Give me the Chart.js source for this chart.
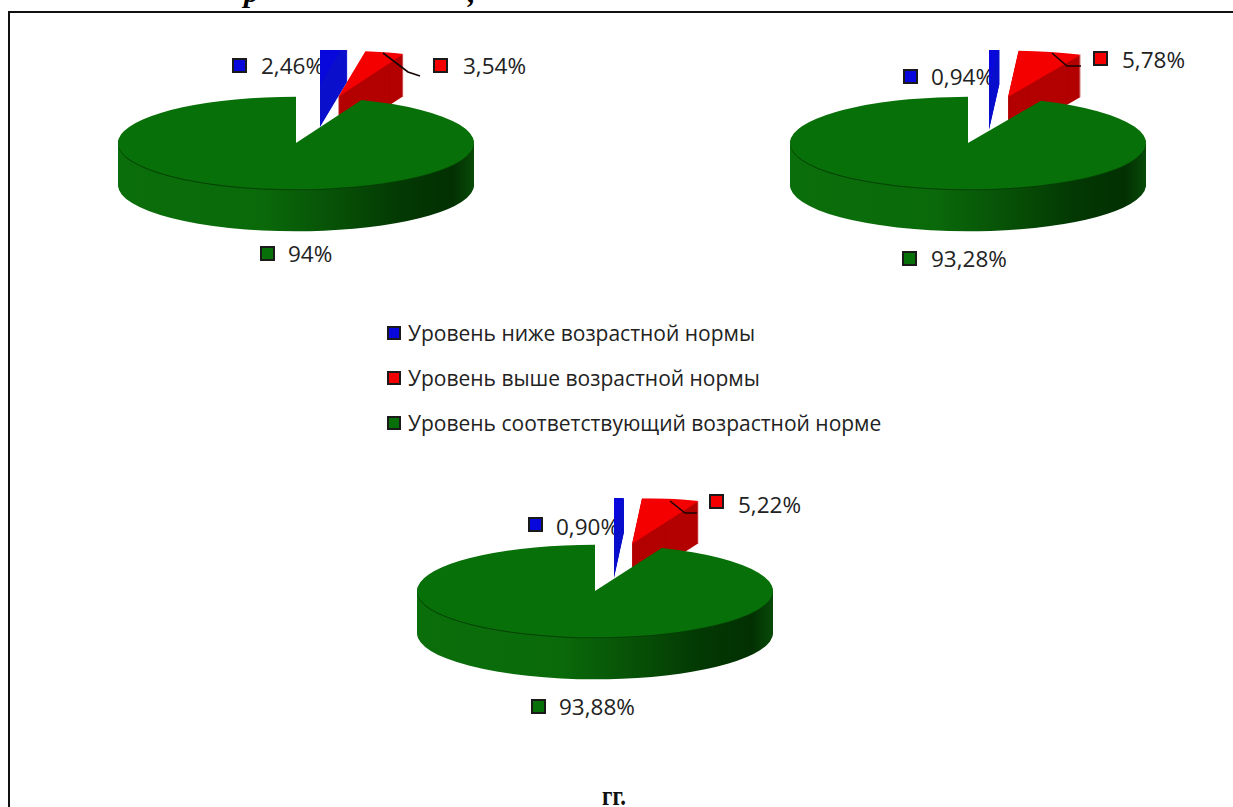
<!DOCTYPE html>
<html lang="ru">
<head>
  <meta charset="UTF-8" />
  <title>Уровень возрастной нормы</title>
  <script src="https://cdn.jsdelivr.net/npm/chart.js"></script>
  <style>
    html, body { margin: 0; padding: 0; background: #fff; }
    body { position: relative; width: 1233px; height: 807px; overflow: hidden; font-family: "Open Sans", sans-serif; color: #222; }
    #frame { position: absolute; left: 8px; top: 11px; width: 1240px; height: 810px; border-left: 2px solid #111; border-top: 2px solid #111; box-sizing: border-box; }
    canvas { position: absolute; z-index: 2; }
    .lbl { position: absolute; font-size: 22.5px; line-height: 24px; white-space: nowrap; z-index: 1; }
    .sq { position: absolute; width: 15px; height: 15px; border: 2px solid #1a1a1a; box-sizing: border-box; z-index: 1; }
    .leg { position: absolute; left: 408px; font-size: 21px; line-height: 24px; white-space: nowrap; }
    .top { position: absolute; font: italic bold 30px "Liberation Serif", serif; color: #000; }
  </style>
</head>
<body>
  <div id="frame"></div>
  <span class="top" style="left:244px; top:-25px">р</span>
  <span class="top" style="left:468px; top:-25px">,</span>
  <span style="position:absolute; left:602px; top:781px; font:bold 27px 'Liberation Serif', serif; color:#111; transform:scaleX(0.85); transform-origin:left">гг.</span>

  <script>
    const categories = ['Уровень ниже возрастной нормы', 'Уровень выше возрастной нормы', 'Уровень соответствующий возрастной норме'];
    const colors = ['#0808dc', '#f50000', '#087008'];
    const sideColors = ['#0a10cc', '#b30000', null];

    const valuesA = [2.46, 3.54, 94];
    const valuesB = [0.94, 5.78, 93.28];
    const valuesC = [0.90, 5.22, 93.88];

    const labelsA = ['2,46%', '3,54%', '94%'];
    const labelsB = ['0,94%', '5,78%', '93,28%'];
    const labelsC = ['0,90%', '5,22%', '93,88%'];

    // center of each pie, how far blue and red are pulled out, where they get cut off
    const pies = [
      { values: valuesA, labels: labelsA, cx: 295.5, cy: 143, clipY: 50, pull: [[24, -58], [42, -46]],
        leader: [[87, -90], [112, -71], [124, -67]],
        marks: [[232, 58], [433, 58], [260, 246]], texts: [[261, 66], [463, 66], [288, 254]] },
      { values: valuesB, labels: labelsB, cx: 968, cy: 143, clipY: 50, pull: [[21, -55], [40, -46]],
        leader: [[84, -90], [99, -77], [113, -77]],
        marks: [[903, 69], [1093, 51], [902, 251]], texts: [[931, 77], [1122, 60], [931, 259]] },
      { values: valuesC, labels: labelsC, cx: 595, cy: 590.5, clipY: 498, pull: [[19, -55], [37, -47]],
        leader: [[75, -90], [90, -78], [102, -78]],
        marks: [[528, 517], [709, 494], [531, 699]], texts: [[556, 527], [738, 505], [559, 707]] }
    ];

    const squash = 0.26;
    const depth = 42;
    const R = 178;
    const size = 376;

    function drawWedge(ctx, arc, fill, cx, cy, dx, dy) {
      const saved = arc.options;
      arc.options = Object.assign({}, saved, { backgroundColor: fill });
      ctx.save();
      ctx.translate(cx + dx, cy + dy);
      ctx.scale(1, squash);
      ctx.translate(-cx, -cy);
      arc.draw(ctx);
      ctx.restore();
      arc.options = saved;
    }

    const pie3d = {
      id: 'pie3d',
      beforeDatasetsDraw(chart, args, opts) {
        const ctx = chart.ctx;
        const arcs = chart.getDatasetMeta(0).data;
        const cx = arcs[0].x, cy = arcs[0].y;

        // blue and red first, they sit behind the green
        ctx.save();
        ctx.beginPath();
        ctx.rect(0, opts.clipTop, chart.width, chart.height);
        ctx.clip();
        [1, 0].forEach(i => {
          const [px, py] = opts.pull[i];
          for (let d = depth; d > 0; d--) drawWedge(ctx, arcs[i], sideColors[i], cx, cy, px, py + d);
          drawWedge(ctx, arcs[i], colors[i], cx, cy, px, py);
        });
        ctx.restore();

        // leader line of the red label
        ctx.strokeStyle = '#1a0505';
        ctx.lineWidth = 1.6;
        ctx.beginPath();
        opts.leader.forEach(([x, y], i) => i ? ctx.lineTo(cx + x, cy + y) : ctx.moveTo(cx + x, cy + y));
        ctx.stroke();

        const side = ctx.createLinearGradient(cx - R, 0, cx + R, 0);
        side.addColorStop(0, '#0a6e0a');
        side.addColorStop(0.4, '#0a6a0a');
        side.addColorStop(0.6, '#075207');
        side.addColorStop(0.8, '#033803');
        side.addColorStop(0.94, '#023002');
        side.addColorStop(1, '#084a08');
        for (let d = depth; d > 1; d--) drawWedge(ctx, arcs[2], side, cx, cy, 0, d);
        drawWedge(ctx, arcs[2], '#054005', cx, cy, 0, 1);
        drawWedge(ctx, arcs[2], colors[2], cx, cy, 0, 0);
        return false;
      }
    };

    pies.forEach(p => {
      const canvas = document.createElement('canvas');
      canvas.width = size;
      canvas.height = size;
      canvas.style.width = size + 'px';
      canvas.style.height = size + 'px';
      canvas.style.left = (p.cx - size / 2) + 'px';
      canvas.style.top = (p.cy - size / 2) + 'px';
      document.body.appendChild(canvas);

      new Chart(canvas, {
        type: 'pie',
        data: {
          labels: categories,
          datasets: [{ data: p.values, backgroundColor: colors, borderWidth: 0, hoverOffset: 0 }]
        },
        options: {
          responsive: false,
          animation: false,
          events: [],
          layout: { padding: (size - 2 * R) / 2 },
          plugins: {
            legend: { display: false },
            tooltip: { enabled: false },
            pie3d: { pull: p.pull, leader: p.leader, clipTop: p.clipY - (p.cy - size / 2) }
          }
        },
        plugins: [pie3d]
      });

      p.labels.forEach((txt, i) => {
        const sq = document.createElement('div');
        sq.className = 'sq';
        sq.style.left = p.marks[i][0] + 'px';
        sq.style.top = p.marks[i][1] + 'px';
        sq.style.background = colors[i];
        document.body.appendChild(sq);
        const el = document.createElement('div');
        el.className = 'lbl';
        el.textContent = txt;
        el.style.left = p.texts[i][0] + 'px';
        el.style.top = (p.texts[i][1] - 12) + 'px';
        document.body.appendChild(el);
      });
    });

    // legend in the middle
    categories.forEach((name, i) => {
      const y = 333 + i * 45;
      const sq = document.createElement('div');
      sq.className = 'sq';
      sq.style.cssText = `left:387px; top:${y - 7}px; width:14px; height:14px; background:${colors[i]}`;
      document.body.appendChild(sq);
      const el = document.createElement('div');
      el.className = 'leg';
      el.textContent = name;
      el.style.top = (y - 12) + 'px';
      document.body.appendChild(el);
    });
  </script>
</body>
</html>
